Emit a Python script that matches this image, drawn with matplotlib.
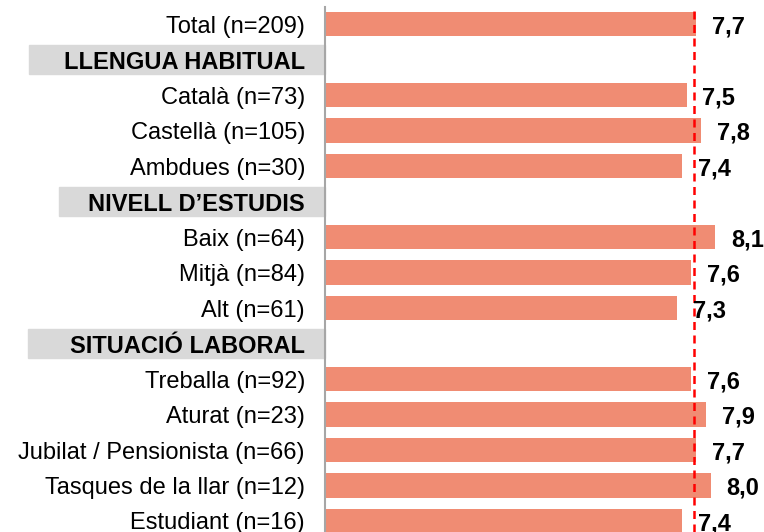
import matplotlib
matplotlib.use("Agg")
import matplotlib.pyplot as plt
from matplotlib.patches import Rectangle

plt.rcParams['font.family'] = ['Liberation Sans', 'DejaVu Sans']

# rows from top to bottom; None marks a section header row
labels = ["Total (n=209)", "LLENGUA HABITUAL", "Català (n=73)", "Castellà (n=105)",
          "Ambdues (n=30)", "NIVELL D\u2019ESTUDIS", "Baix (n=64)", "Mitjà (n=84)",
          "Alt (n=61)", "SITUACIÓ LABORAL", "Treballa (n=92)", "Aturat (n=23)",
          "Jubilat / Pensionista (n=66)", "Tasques de la llar (n=12)", "Estudiant (n=16)"]
values = [7.7, None, 7.5, 7.8, 7.4, None, 8.1, 7.6, 7.3, None, 7.6, 7.9, 7.7, 8.0, 7.4]
mean_total = 7.65

bar_color = "#F08C73"
header_bg = "#D9D9D9"
# left edge (pixels) of the grey box behind each header
header_left_px = {"LLENGUA HABITUAL": 29, "NIVELL D\u2019ESTUDIS": 59, "SITUACIÓ LABORAL": 28}

W, H = 764, 532
fig = plt.figure(figsize=(W / 100, H / 100), dpi=100)
ax_left = 325
ax = fig.add_axes([ax_left / W, 0, (W - ax_left) / W, 1 - 7 / H])

rows = list(range(len(labels)))
for i, v in zip(rows, values):
    if v is None:
        continue
    ax.barh(i, v, height=0.68, color=bar_color, zorder=2)
    ax.annotate(f"{v:.1f}".replace(".", ","), xy=(v, i), xytext=(11.5, -2),
                textcoords="offset points", ha="left", va="center",
                fontsize=17, fontweight="bold", color="black", zorder=4)

ax.axvline(mean_total, color="#FF0000", lw=1.8, linestyle=(0, (3.2, 2.2)), zorder=3)

ax.set_xlim(0, (W - ax_left) / 48.2)
ax.set_ylim(len(labels) - 1 + 0.31, -0.48)

ax.set_yticks(rows)
ax.set_yticklabels(labels, fontsize=17)
ax.tick_params(axis="y", length=0, pad=14.4)
for lbl, tick in zip(labels, ax.get_yticklabels()):
    if lbl in header_left_px:
        tick.set_fontweight("bold")
        left = (header_left_px[lbl] - ax_left) / (W - ax_left)
        i = labels.index(lbl)
        ax.add_patch(Rectangle((left, i - 0.42), -left, 0.84, transform=ax.get_yaxis_transform(),
                               color=header_bg, clip_on=False, zorder=0))

ax.set_xticks([])
for s in ["top", "right", "bottom"]:
    ax.spines[s].set_visible(False)
ax.spines["left"].set_color("#A6A6A6")
ax.spines["left"].set_linewidth(1.5)
ax.patch.set_alpha(0)

fig.savefig("out.png", dpi=100)
